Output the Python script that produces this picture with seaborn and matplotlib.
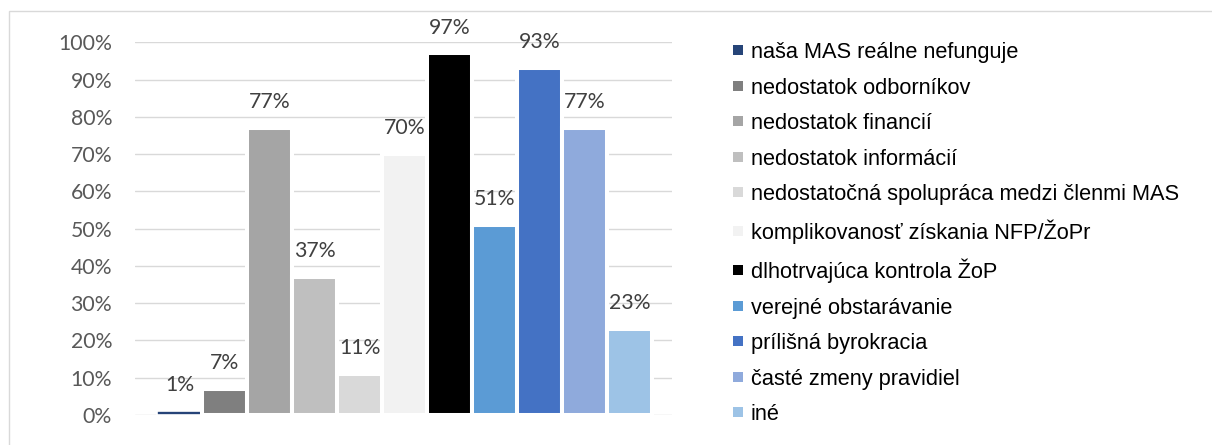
import matplotlib
matplotlib.use("Agg")
import matplotlib.pyplot as plt
from matplotlib.lines import Line2D
from matplotlib.patches import Rectangle
from matplotlib.ticker import FixedLocator, FuncFormatter
from matplotlib.font_manager import FontProperties
import seaborn as sns
import pandas as pd

# ---- data ----
categories = [
    "naša MAS reálne nefunguje",
    "nedostatok odborníkov",
    "nedostatok financií",
    "nedostatok informácií",
    "nedostatočná spolupráca medzi členmi MAS",
    "komplikovanosť získania NFP/ŽoPr",
    "dlhotrvajúca kontrola ŽoP",
    "verejné obstarávanie",
    "prílišná byrokracia",
    "časté zmeny pravidiel",
    "iné",
]
values = [1, 7, 77, 37, 11, 70, 97, 51, 93, 77, 23]  # percent
colors = [
    "#264478", "#7F7F7F", "#A5A5A5", "#BFBFBF", "#D9D9D9", "#F2F2F2",
    "#000000", "#5B9BD5", "#4472C4", "#8FAADC", "#9DC3E6",
]
y_ticks = [0, 10, 20, 30, 40, 50, 60, 70, 80, 90, 100]

df = pd.DataFrame({"kategoria": categories, "podiel": [v / 100 for v in values]})

sns.set_theme(style="white")
plt.rcParams["font.family"] = ["Lato", "DejaVu Sans"]

W, H = 1212, 445
fig = plt.figure(figsize=(W / 100, H / 100), dpi=100)
ax = fig.add_axes([135 / W, (H - 415) / H, (672 - 135) / W, (415 - 42.3) / H])

sns.barplot(
    data=df, x="kategoria", y="podiel", hue="kategoria",
    order=categories, hue_order=categories, palette=colors,
    saturation=1, width=1.0, dodge=False, legend=False,
    edgecolor="white", linewidth=2.9, ax=ax, zorder=3,
)
# thin first bar must stay visible
for p in ax.patches:
    if p.get_height() < 0.02:
        p.set_linewidth(1.2)

ax.set_xlim(-0.99, 10.94)
ax.set_ylim(0, 1.0)
ax.set_xticks([])
ax.set_xlabel("")
ax.set_ylabel("")
ax.yaxis.set_major_locator(FixedLocator([t / 100 for t in y_ticks]))
ax.yaxis.set_major_formatter(FuncFormatter(lambda v, _: f"{v * 100:.0f}%"))
ax.tick_params(axis="y", length=0, pad=16.5, labelsize=15.3, labelcolor="#595959")
ax.grid(axis="y", color="#D9D9D9", linewidth=1.0, zorder=0)
ax.set_axisbelow(True)
for s in ax.spines.values():
    s.set_visible(False)
ax.patch.set_alpha(0)

for cont, v in zip(ax.containers, values):
    ax.bar_label(cont, labels=[f"{v}%"], padding=11.5, fontsize=15.3,
                 color="#404040", clip_on=False)

# legend
handles = [Line2D([0], [0], marker="s", linestyle="", markersize=6.5,
                  markeredgewidth=0, color=c) for c in colors]
fig.legend(
    handles, categories, loc="upper left",
    bbox_to_anchor=(733 / W, 1 - 42 / H), bbox_transform=fig.transFigure,
    frameon=False, borderpad=0, borderaxespad=0,
    handlelength=0.5, handletextpad=0.32, labelspacing=0.665,
    prop=FontProperties(family=["Liberation Sans", "DejaVu Sans"], size=15.7),
    labelcolor="#000000",
)

# outer chart frame (top and left visible)
fig.add_artist(Rectangle((8.5 / W, -0.5), 2.0, (H - 11) / H + 0.5,
                         transform=fig.transFigure, fill=False,
                         edgecolor="#D9D9D9", linewidth=1.0))

fig.savefig("out.png", dpi=100, facecolor="white")
